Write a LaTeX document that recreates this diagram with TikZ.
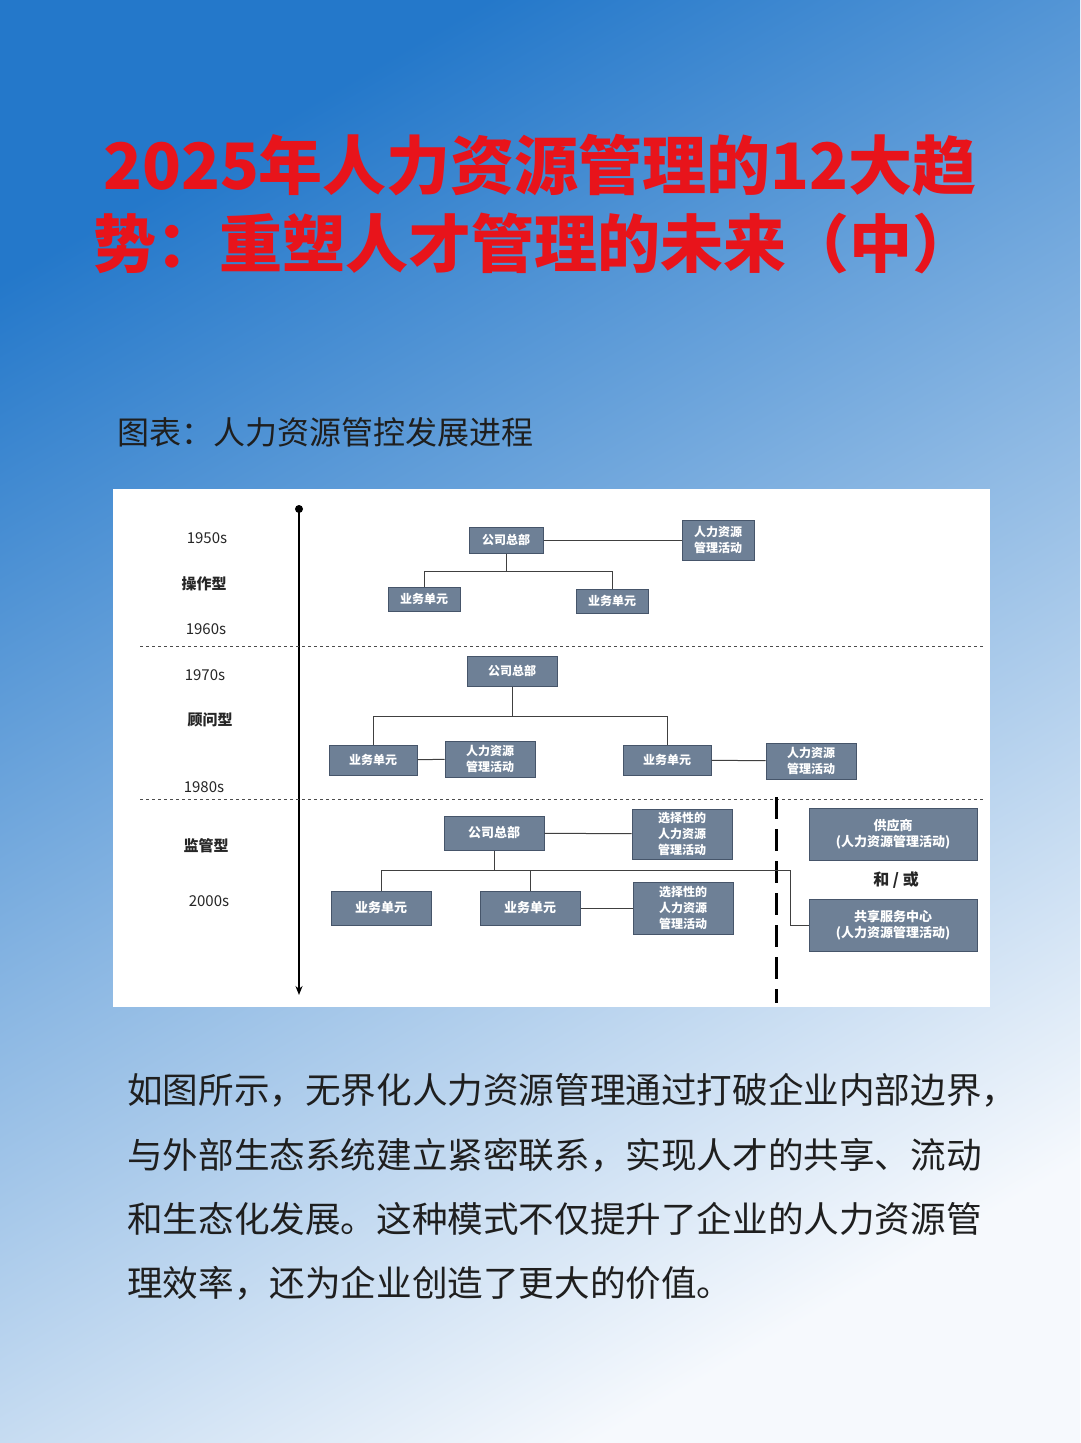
\documentclass[tikz,border=0pt]{standalone}
\usepackage{fontspec}
\setmainfont{Noto Sans CJK SC}
\usetikzlibrary{arrows.meta}
\definecolor{titlered}{HTML}{E8141B}
\definecolor{boxfill}{HTML}{6E8096}
\definecolor{boxline}{HTML}{46556A}
\definecolor{txt}{HTML}{1F1F1F}
\tikzset{
  bx/.style={draw=boxline,line width=1pt,fill=boxfill,text=white,font=\bfseries\fontsize{#1}{16}\selectfont,align=center,inner sep=0pt},
  bx/.default=12,
  lnk/.style={draw=black!75,line width=1pt},
  yr/.style={font=\fontsize{15}{15}\selectfont,text=black!85},
  ty/.style={font=\bfseries\fontsize{15}{15}\selectfont,text=black!85},
  sep/.style={dashed,black!70,line width=0.8pt}
}
\begin{document}
\begin{tikzpicture}[x=1pt,y=-1pt]
\useasboundingbox (0,0) rectangle (1080,1443);
\shade[shading=axis,top color={rgb,255:red,36;green,120;blue,202},bottom color={rgb,255:red,246;green,249;blue,253},shading angle=30] (0,0) rectangle (1080,1443);
% title
\node[anchor=center,text=titlered,font=\bfseries\fontsize{64}{64}\selectfont,inner sep=0pt] (t1) at (540,165) {2025年人力资源管理的12大趋};
\node[anchor=west,text=titlered,font=\bfseries\fontsize{63}{63}\selectfont,inner sep=0pt] (t2) at (93,243) {势：重塑人才管理的未来（中）};
\node[anchor=west,text=txt,font=\fontsize{32}{32}\selectfont,inner sep=0pt] (cap) at (117,432) {图表：人力资源管控发展进程};
% panel
\fill[white] (113,489) rectangle (990,1007);
% timeline
\fill[black] (299,509) circle (4);
\draw[black,line width=2pt,-{Stealth[length=9pt,width=7pt]}] (299,509) -- (299,995);
\node[yr] (y1) at (207,538) {1950s};
\node[ty] (k1) at (204,584) {操作型};
\node[yr] (y2) at (206,629) {1960s};
\draw[sep] (140,646) -- (985,646);
\node[yr] (y3) at (205,675) {1970s};
\node[ty] (k2) at (210,720) {顾问型};
\node[yr] (y4) at (204,787) {1980s};
\draw[sep] (140,799) -- (985,799);
\node[ty] (k3) at (206,846) {监管型};
\node[yr] (y5) at (209,901) {2000s};
% era 1
\node[bx,minimum width=74,minimum height=26] (h1) at (506,540) {公司总部};
\node[bx,minimum width=72,minimum height=40] (r1) at (718,540) {人力资源\\管理活动};
\node[bx,minimum width=72,minimum height=24] (u1a) at (424,599) {业务单元};
\node[bx,minimum width=72,minimum height=24] (u1b) at (612,601) {业务单元};
\draw[lnk] (h1) -- (r1);
\draw[lnk] (h1.south) -- (506,571) -| (u1a.north);
\draw[lnk] (506,571) -| (u1b.north);
% era 2
\node[bx,minimum width=90,minimum height=30] (h2) at (512,671) {公司总部};
\node[bx,minimum width=88,minimum height=30] (u2a) at (373,760) {业务单元};
\node[bx,minimum width=90,minimum height=36] (r2a) at (490,759) {人力资源\\管理活动};
\node[bx,minimum width=88,minimum height=30] (u2b) at (667,760) {业务单元};
\node[bx,minimum width=90,minimum height=36] (r2b) at (811,761) {人力资源\\管理活动};
\draw[lnk] (h2.south) -- (512,716) -| (u2a.north);
\draw[lnk] (512,716) -| (u2b.north);
\draw[lnk] (u2a) -- (r2a);
\draw[lnk] (u2b) -- (r2b);
% era 3
\node[bx=13,minimum width=100,minimum height=34] (h3) at (494,833) {公司总部};
\node[bx,minimum width=100,minimum height=50] (s3a) at (682,834) {选择性的\\人力资源\\管理活动};
\node[bx=13,minimum width=100,minimum height=34] (u3a) at (381,908) {业务单元};
\node[bx=13,minimum width=100,minimum height=34] (u3b) at (530,908) {业务单元};
\node[bx,minimum width=100,minimum height=52] (s3b) at (683,908) {选择性的\\人力资源\\管理活动};
\node[bx=13,minimum width=168,minimum height=52] (sup) at (893,834) {供应商\\(人力资源管理活动)};
\node[bx=13,minimum width=168,minimum height=52] (ssc) at (893,925) {共享服务中心\\(人力资源管理活动)};
\node[font=\bfseries\fontsize{16}{16}\selectfont,text=black!85] (ho) at (896,880) {和 / 或};
\draw[black,line width=3pt,dash pattern=on 22pt off 10pt] (776,797) -- (776,1003);
\draw[lnk] (h3) -- (s3a);
\draw[lnk] (h3.south) -- (494,870);
\draw[lnk] (u3a.north) |- (790,870) |- (ssc.west);
\draw[lnk] (u3b.north) -- (530,870);
\draw[lnk] (u3b) -- (s3b);
% body
\begin{scope}[every node/.style={anchor=west,text=txt,font=\fontsize{35.6}{35.6}\selectfont,inner sep=0pt}]
\node (p1) at (127,1090) {如图所示，无界化人力资源管理通过打破企业内部边界，};
\node (p2) at (127,1155) {与外部生态系统建立紧密联系，实现人才的共享、流动};
\node (p3) at (127,1219) {和生态化发展。这种模式不仅提升了企业的人力资源管};
\node (p4) at (127,1283) {理效率，还为企业创造了更大的价值。};
\end{scope}
\end{tikzpicture}
\end{document}
